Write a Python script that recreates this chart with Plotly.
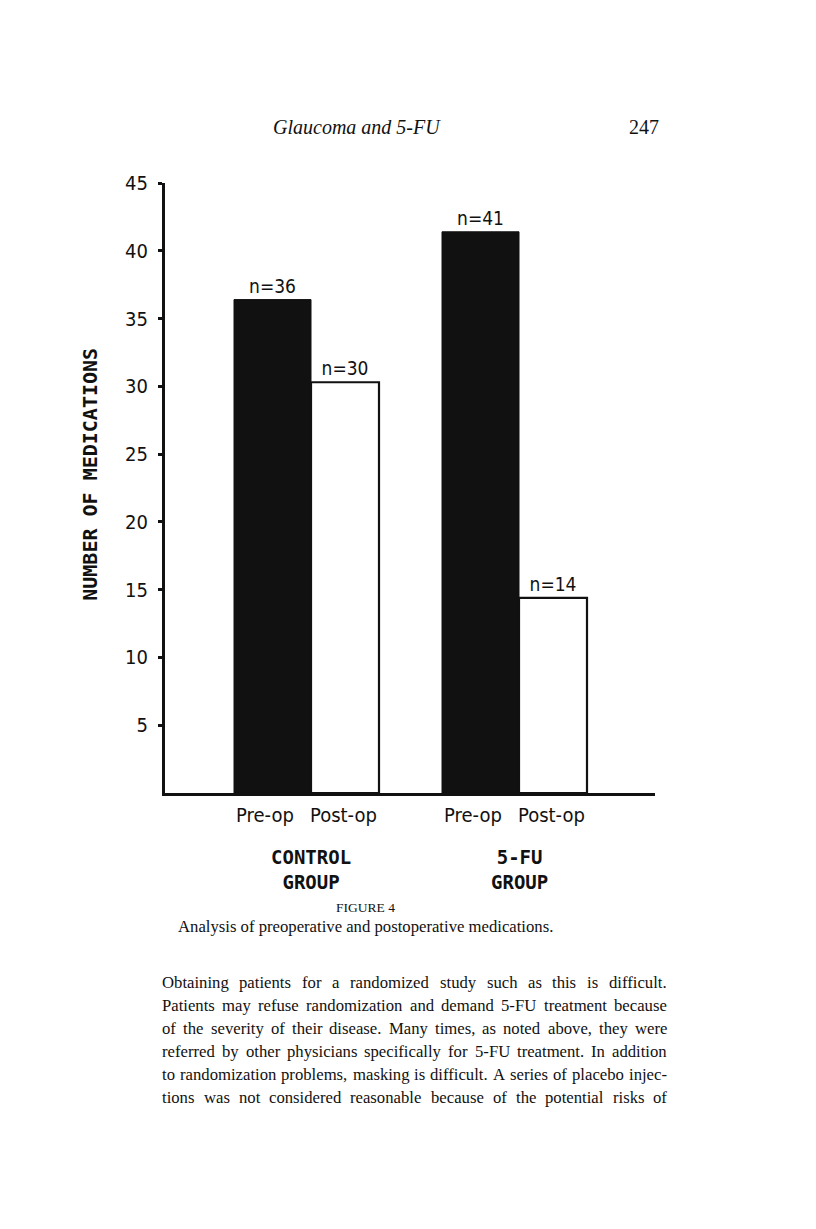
import plotly.graph_objects as go

# ---- data ----
groups = ["CONTROL<br>GROUP", "5-FU<br>GROUP"]
series_names = ["Pre-op", "Post-op"]
pre_op_values = [36.4, 41.4]
post_op_values = [30.3, 14.4]
pre_op_labels = ["n=36", "n=41"]
post_op_labels = ["n=30", "n=14"]
y_tick_values = [5, 10, 15, 20, 25, 30, 35, 40, 45]
y_title = "NUMBER OF MEDICATIONS"

header_title = "Glaucoma and 5-FU"
page_number = "247"
figure_label = "FIGURE 4"
figure_caption = "Analysis of preoperative and postoperative medications."
body_lines = [
    "Obtaining patients for a randomized study such as this is difficult.",
    "Patients may refuse randomization and demand 5-FU treatment because",
    "of the severity of their disease. Many times, as noted above, they were",
    "referred by other physicians specifically for 5-FU treatment. In addition",
    "to randomization problems, masking is difficult. A series of placebo injec-",
    "tions was not considered reasonable because of the potential risks of",
]

# ---- layout geometry (page pixels; page body has an 8px margin) ----
OFF = 8
W, H = 816 - 2 * OFF, 1229 - 2 * OFF
PL, PR = 165, 655      # plot area left/right (page px)
PT, PB = 183, 793.5    # plot area top/bottom (page px)

def px(x, y):
    return (x - PL) / (PR - PL), (PB - y) / (PB - PT)

SANS = "'Liberation Sans Narrow', 'DejaVu Sans Condensed', 'DejaVu Sans', sans-serif"
MONO = "'DejaVu Sans Mono', 'Liberation Mono', monospace"
SERIF = "'Liberation Serif', 'Times New Roman', serif"
INK = "#111111"

unit = 208.0  # px per category
pre_w, post_w = 77 / unit, 68 / unit

fig = go.Figure()
fig.add_trace(go.Bar(
    x=groups, y=pre_op_values, name=series_names[0],
    width=pre_w, offset=-pre_w,
    marker=dict(color=INK, line=dict(color=INK, width=1)),
    text=pre_op_labels, textposition="outside",
    textfont=dict(family=SANS, size=19, color=INK),
    cliponaxis=False,
))
fig.add_trace(go.Bar(
    x=groups, y=post_op_values, name=series_names[1],
    width=post_w, offset=0,
    marker=dict(color="white", line=dict(color=INK, width=2.2)),
    text=post_op_labels, textposition="outside",
    textfont=dict(family=SANS, size=19, color=INK),
    cliponaxis=False,
))

x_lo = -(311 - PL) / unit
x_hi = (PR - 311) / unit

fig.update_layout(
    width=W, height=H,
    margin=dict(l=PL - OFF, r=W - (PR - OFF), t=PT - OFF, b=H - (PB - OFF), pad=0),
    paper_bgcolor="white", plot_bgcolor="white",
    showlegend=False,
    barmode="overlay",
    font=dict(family=SANS, color=INK),
    xaxis=dict(
        range=[x_lo, x_hi], showticklabels=False, ticks="",
        showline=True, linecolor=INK, linewidth=3, showgrid=False, zeroline=False,
    ),
    yaxis=dict(
        range=[0, 45], tickvals=y_tick_values, ticks="outside", ticklen=4, tickwidth=3,
        tickcolor=INK, showline=True, linecolor=INK, linewidth=3, showgrid=False,
        zeroline=False, tickfont=dict(family=SANS, size=20, color=INK),
        ticklabelstandoff=6,
    ),
)

ann = []
label_shifts = (-46, 32)
for g in groups:
    for name, shift in zip(series_names, label_shifts):
        ann.append(dict(x=g, xref="x", y=0, yref="paper", yshift=-(815 - PB), xshift=shift,
                        xanchor="center", yanchor="middle",
                        text=name, showarrow=False,
                        font=dict(family=SANS, size=20, color=INK)))
    ann.append(dict(x=g, xref="x", y=0, yref="paper", yshift=-(870 - PB),
                    xanchor="center", yanchor="middle",
                    text=g, showarrow=False,
                    font=dict(family=MONO, size=19, color=INK, weight="bold")))

def add_text(x, y, text, font, xanchor="center", angle=0):
    ax, ay = px(x, y)
    ann.append(dict(x=ax, y=ay, xref="paper", yref="paper", text=text, showarrow=False,
                    xanchor=xanchor, yanchor="middle", textangle=angle, font=font))

add_text(90, 475, y_title, dict(family=MONO, size=20, color=INK, weight="bold"), angle=-90)
add_text(357, 127, header_title, dict(family=SERIF, size=20, color=INK, style="italic"))
add_text(644, 127, page_number, dict(family=SERIF, size=20, color=INK))
add_text(365, 908, figure_label, dict(family=SERIF, size=13.5, color=INK))
add_text(365, 927, figure_caption, dict(family=SERIF, size=16.7, color=INK))

# ---- justified body text (Times-metric advance widths, per 1000 em) ----
_w = {" ": 250, ".": 250, ",": 250, "-": 333, "0": 500, "1": 500, "2": 500, "3": 500,
      "4": 500, "5": 500, "6": 500, "7": 500, "8": 500, "9": 500,
      "A": 722, "F": 556, "I": 333, "M": 889, "O": 722, "P": 556, "U": 722, "T": 611}
_w.update(dict(zip("abcdefghijklmnopqrstuvwxyz",
                   [444, 500, 444, 500, 444, 333, 500, 500, 278, 278, 500, 278, 778,
                    500, 500, 500, 500, 333, 389, 278, 500, 500, 722, 500, 500, 444])))

def em_width(s):
    return sum(_w.get(c, 500) for c in s) / 1000.0

TX0, TX1 = 160, 665
col_w = TX1 - TX0
max_nat = max(em_width(l) for l in body_lines)
body_size = min(18.0, 0.985 * col_w / max_nat)
for i, line in enumerate(body_lines):
    words = line.split(" ")
    ww = [em_width(w) * body_size for w in words]
    gap = (col_w - sum(ww)) / (len(words) - 1)
    x = TX0
    for w, wpx in zip(words, ww):
        add_text(x, 983 + i * 23, w, dict(family=SERIF, size=body_size, color=INK), xanchor="left")
        x += wpx + gap

fig.update_layout(annotations=ann)
fig.write_html("out.html")
